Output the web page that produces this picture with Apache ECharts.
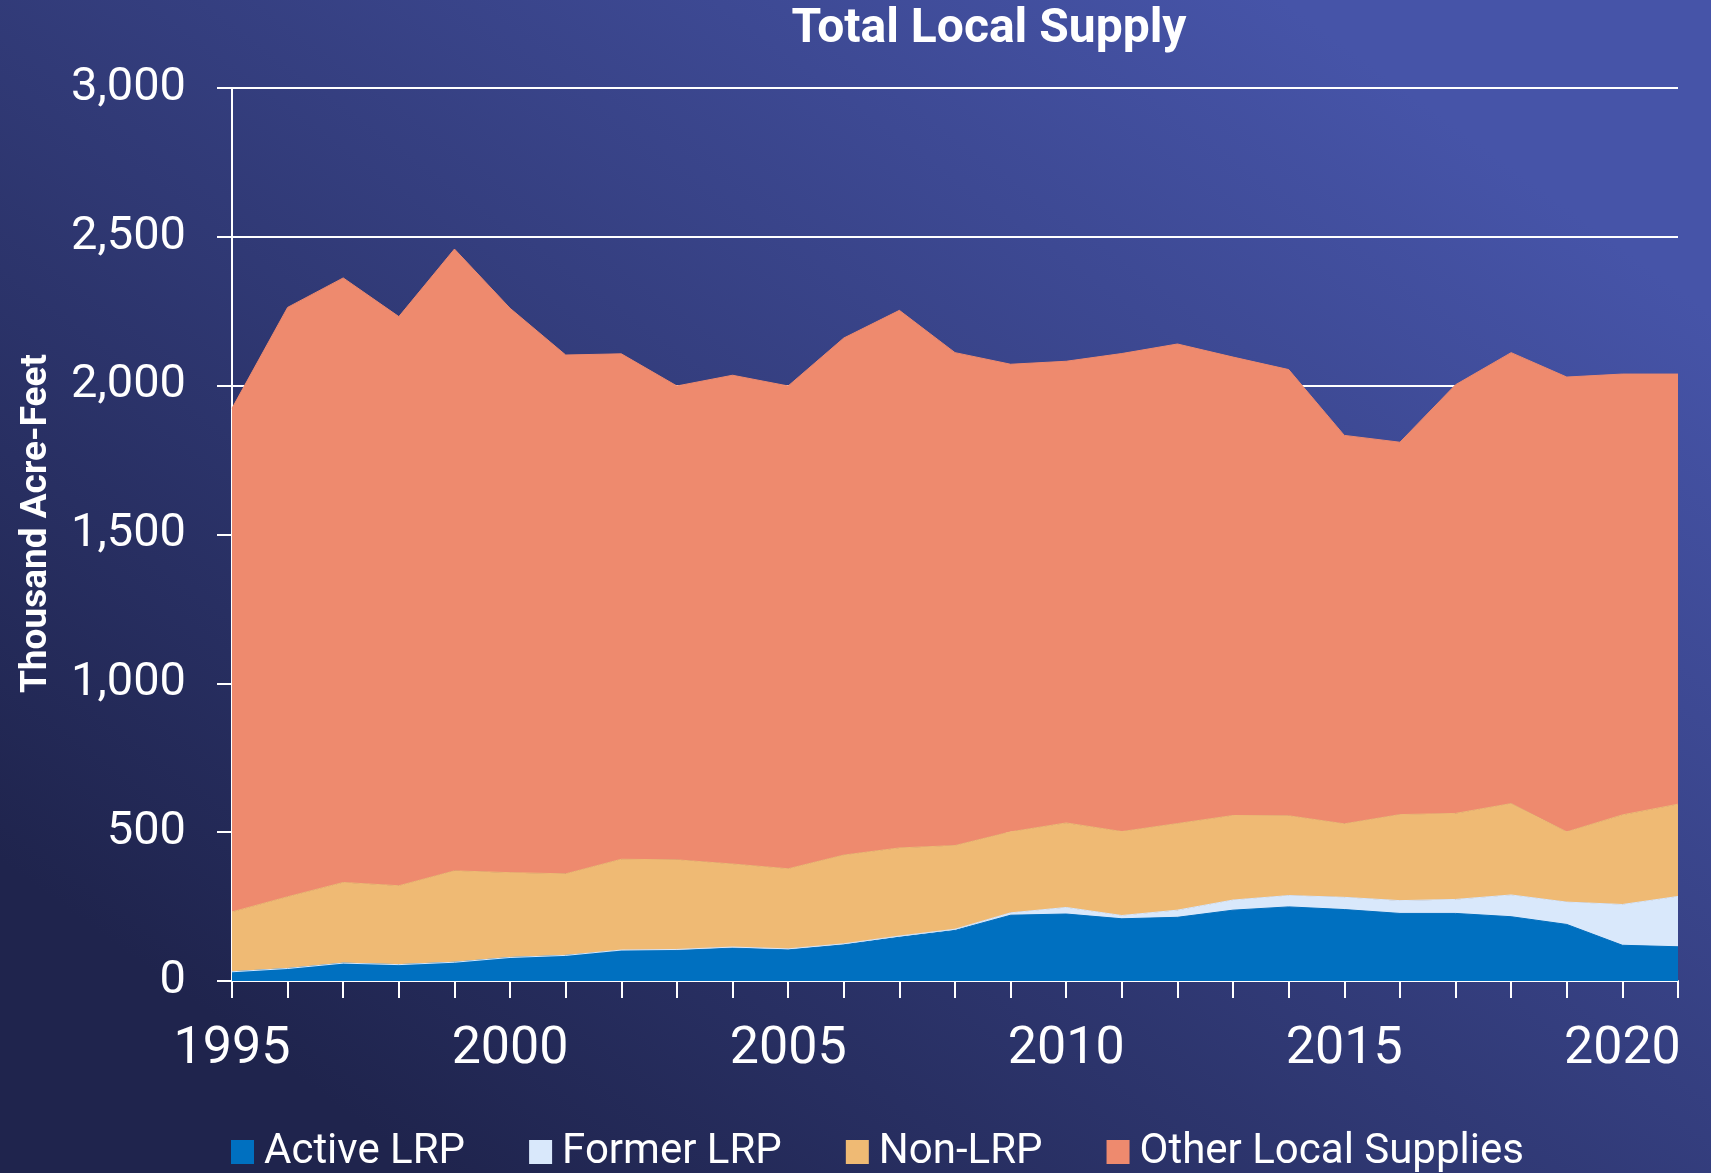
<!DOCTYPE html>
<html>
<head>
<meta charset="utf-8">
<title>Total Local Supply</title>
<script src="https://cdn.jsdelivr.net/npm/echarts@6/dist/echarts.min.js"></script>
<style>
  html, body { margin: 0; padding: 0; }
  #chart { width: 1711px; height: 1173px; }
</style>
</head>
<body>
<div id="chart"></div>
<script>
// Thousand acre-feet by year
const years = ['1995', '1996', '1997', '1998', '1999', '2000', '2001', '2002', '2003', '2004',
  '2005', '2006', '2007', '2008', '2009', '2010', '2011', '2012', '2013', '2014',
  '2015', '2016', '2017', '2018', '2019', '2020', '2021'];

const activeLRP = [31, 42, 60, 55, 63, 79, 86, 102, 103, 111, 105, 122, 147, 170, 221, 225, 209, 214, 238, 249, 240, 227, 227, 216, 190, 120, 115];
const formerLRP = [0, 0, 0, 0, 0, 0, 0, 2, 3, 3, 3, 3, 4, 4, 8, 22, 11, 24, 34, 38, 41, 43, 47, 73, 75, 137, 169];
const nonLRP = [201, 241, 271, 265, 307, 285, 274, 305, 301, 279, 269, 298, 296, 281, 272, 284, 282, 291, 284, 268, 247, 289, 289, 307, 236, 301, 310];
const otherLocal = [1692, 1980, 2031, 1912, 2089, 1896, 1743, 1698, 1592, 1642, 1622, 1737, 1806, 1656, 1571, 1551, 1606, 1611, 1540, 1499, 1305, 1251, 1440, 1515, 1528, 1481, 1445];

const seriesNames = ['Active LRP', 'Former LRP', 'Non-LRP', 'Other Local Supplies'];
const seriesColors = ['#0070c0', '#d9e8fb', '#efba74', '#ee8a6e'];

const chart = echarts.init(document.getElementById('chart'));

function areaSeries(name, data, color) {
  return {
    name: name,
    type: 'line',
    stack: 'total',
    data: data,
    symbol: 'none',
    itemStyle: { color: color },
    lineStyle: { width: 1, color: color },
    areaStyle: { color: color, opacity: 1 }
  };
}

chart.setOption({
  backgroundColor: new echarts.graphic.LinearGradient(0.25, 1, 0.75, 0, [
    { offset: 0, color: '#1f244d' },
    { offset: 1, color: '#4654a8' }
  ]),
  textStyle: { fontFamily: 'Roboto' },
  animation: false,
  title: {
    text: 'Total Local Supply',
    left: 984,
    textAlign: 'center',
    top: 1,
    textStyle: { color: '#fff', fontSize: 48, fontWeight: 'bold', fontFamily: 'Roboto' }
  },
  legend: {
    left: 231,
    top: 1131,
    padding: 0,
    itemWidth: 23,
    itemHeight: 24,
    itemGap: 64,
    icon: 'rect',
    data: seriesNames,
    textStyle: { color: '#fff', fontSize: 42, padding: [0, 0, 0, 5] }
  },
  grid: { left: 232, right: 33, top: 88, bottom: 192 },
  xAxis: {
    type: 'category',
    data: years,
    boundaryGap: false,
    axisLine: { lineStyle: { color: '#fff', width: 2 } },
    axisTick: { show: true, interval: 0, length: 17, lineStyle: { color: '#fff', width: 2 } },
    axisLabel: { interval: 4, color: '#fff', fontSize: 52, margin: 43 },
    splitLine: { show: false }
  },
  yAxis: {
    type: 'value',
    min: 0,
    max: 3000,
    interval: 500,
    name: 'Thousand Acre-Feet',
    nameLocation: 'middle',
    nameRotate: 90,
    nameGap: 177,
    nameTextStyle: { color: '#fff', fontSize: 37, fontWeight: 'bold', padding: [0, 0, 0, 22] },
    axisLine: { show: true, lineStyle: { color: '#fff', width: 2 } },
    axisTick: { show: true, length: 15, lineStyle: { color: '#fff', width: 2 } },
    axisLabel: {
      color: '#fff',
      fontSize: 47,
      margin: 46,
      formatter: v => v.toLocaleString('en-US')
    },
    splitLine: { lineStyle: { color: '#fff', width: 2 } }
  },
  series: [
    areaSeries(seriesNames[0], activeLRP, seriesColors[0]),
    areaSeries(seriesNames[1], formerLRP, seriesColors[1]),
    areaSeries(seriesNames[2], nonLRP, seriesColors[2]),
    areaSeries(seriesNames[3], otherLocal, seriesColors[3])
  ]
});
</script>
</body>
</html>
